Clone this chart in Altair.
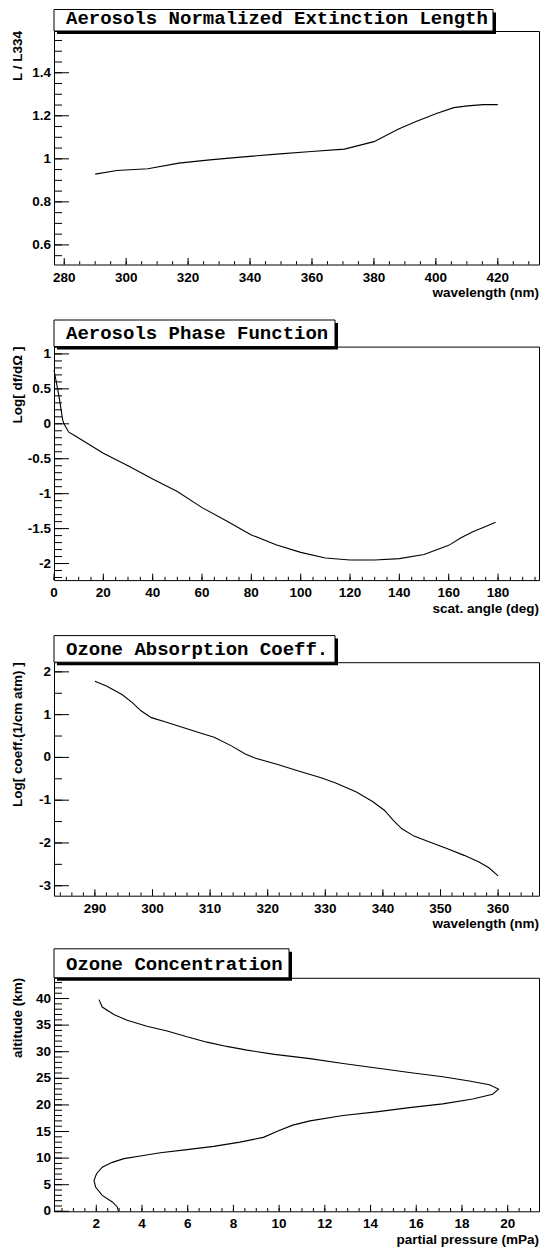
import altair as alt
import numpy as np
import pandas as pd

# ---------------- data ----------------
# Panel 1: aerosols normalized extinction length
ext_wavelength = [290, 297, 307, 317, 327, 337, 348.6, 359.8, 370.5, 380, 387.8,
                  393.4, 400.2, 405.8, 410.2, 415.3, 420]
ext_ratio = [0.929, 0.946, 0.954, 0.980, 0.995, 1.008, 1.022, 1.034, 1.045, 1.080,
             1.137, 1.172, 1.211, 1.238, 1.246, 1.252, 1.252]

# Panel 2: aerosols phase function
phase_angle = [0, 2, 3.5, 4, 6, 8.5, 20, 30, 40, 50, 60, 70, 80, 90, 100, 110,
               120, 130, 140, 150, 160, 165, 170, 175, 179]
phase_log = [0.77, 0.40, 0.06, 0.00, -0.12, -0.17, -0.42, -0.60, -0.79, -0.97,
             -1.20, -1.39, -1.59, -1.73, -1.84, -1.92, -1.95, -1.95, -1.93, -1.87,
             -1.74, -1.63, -1.54, -1.47, -1.41]

# Panel 3: ozone absorption coefficient
oz_wavelength = [290, 292, 294.7, 296.5, 298, 299.8, 302.3, 305.3, 308.3, 310.7,
                 313.7, 316.1, 317.9, 321.6, 325.2, 329.4, 331.8, 335.4, 338.2,
                 340.3, 341.8, 343.3, 345.4, 348.1, 351.1, 354.1, 356.6, 358.4, 360]
oz_logcoeff = [1.78, 1.67, 1.47, 1.28, 1.09, 0.93, 0.83, 0.70, 0.57, 0.47, 0.27,
               0.08, -0.02, -0.16, -0.31, -0.48, -0.60, -0.81, -1.03, -1.24, -1.47,
               -1.67, -1.84, -1.98, -2.13, -2.29, -2.44, -2.58, -2.77]

# Panel 4: ozone concentration profile (traced from top to ground)
conc_altitude = [39.8, 38.4, 37.0, 35.9, 34.8, 33.9, 32.8, 31.8, 31.0, 30.3,
                 29.5, 28.7, 27.8, 26.95, 26.1, 25.3, 24.5, 23.8, 22.97, 22.0,
                 21.1, 20.2, 19.5, 18.7, 18.0, 17.0, 16.2, 15.2, 13.9, 13.0,
                 12.2, 11.6, 11.0, 10.4, 9.9, 9.2, 8.3, 7.06, 5.8, 4.57,
                 3.0, 1.76, 0.82, 0.0]
conc_pressure = [2.12, 2.26, 2.77, 3.35, 4.22, 5.1, 5.97, 6.84, 7.71, 8.59,
                 9.8, 11.35, 12.8, 14.25, 15.7, 17.16, 18.32, 19.2, 19.6, 19.34,
                 18.47, 17.16, 15.7, 14.25, 12.8, 11.35, 10.6, 10.0, 9.31, 8.29,
                 7.13, 5.97, 4.8, 3.93, 3.21, 2.7, 2.26, 2.01, 1.9, 1.97,
                 2.26, 2.7, 2.92, 2.97]

titles = ["Aerosols Normalized Extinction Length", "Aerosols Phase Function",
          "Ozone Absorption Coeff.", "Ozone Concentration"]
x_titles = ["wavelength (nm)", "scat. angle (deg)", "wavelength (nm)",
            "partial pressure (mPa)"]
y_titles = ["L / L334", "Log[ df/d\u03a9 ]", "Log[ coeff.(1/cm atm) ]", "altitude (km)"]

# ---------------- layout / style ----------------
FONT = "Liberation Sans"
MONO = "Liberation Mono"
W, H = 485, 233.5
LBL = 13.5


def ticks(lo, hi, step):
    start = np.ceil(lo / step - 1e-9) * step
    n = int(np.floor((hi - start) / step + 1e-9)) + 1
    return [float(round(start + i * step, 6)) for i in range(n)]


def fmt(v):
    return f"{v:g}"


def panel(df, xf, yf, xdom, ydom, xstep, xminor, ystep, yminor, idx,
          box_w, box_top, order=None, xtitle_dy=32.5):
    xs = alt.Scale(domain=xdom, nice=False, zero=False)
    ys = alt.Scale(domain=ydom, nice=False, zero=False)
    xmaj = ticks(xdom[0], xdom[1], xstep)
    xmin = ticks(xdom[0], xdom[1], xminor)
    ymaj = ticks(ydom[0], ydom[1], ystep)
    ymin = ticks(ydom[0], ydom[1], yminor)

    enc = dict(x=alt.X(f"{xf}:Q", scale=xs, axis=None),
               y=alt.Y(f"{yf}:Q", scale=ys, axis=None))
    if order:
        enc["order"] = alt.Order(f"{order}:Q")
    line = alt.Chart(df).mark_line(color="black", strokeWidth=1.1).encode(**enc)

    def xt(vals, length):
        return alt.Chart(pd.DataFrame({"t": vals})).mark_rule(
            color="black", strokeWidth=1).encode(
            x=alt.X("t:Q", scale=xs, axis=None),
            y=alt.value(H), y2=alt.value(H - length))

    def yt(vals, length):
        return alt.Chart(pd.DataFrame({"t": vals})).mark_rule(
            color="black", strokeWidth=1).encode(
            y=alt.Y("t:Q", scale=ys, axis=None),
            x=alt.value(0), x2=alt.value(length))

    xlab = alt.Chart(pd.DataFrame({"t": xmaj, "s": [fmt(v) for v in xmaj]})).mark_text(
        font=FONT, fontSize=LBL, fontWeight="bold", color="black",
        align="center", baseline="top").encode(
        x=alt.X("t:Q", scale=xs, axis=None), y=alt.value(H + 6),
        text=alt.Text("s:N"))
    ylab = alt.Chart(pd.DataFrame({"t": ymaj, "s": [fmt(v) for v in ymaj]})).mark_text(
        font=FONT, fontSize=LBL, fontWeight="bold", color="black",
        align="right", baseline="middle").encode(
        y=alt.Y("t:Q", scale=ys, axis=None), x=alt.value(-3),
        text=alt.Text("s:N"))

    one = pd.DataFrame({"a": [0]})
    xtitle = alt.Chart(one).mark_text(
        font=FONT, fontSize=LBL, fontWeight="bold", color="black",
        align="right", baseline="alphabetic").encode(
        x=alt.value(W), y=alt.value(H + xtitle_dy), text=alt.value(x_titles[idx]))
    ytitle = alt.Chart(one).mark_text(
        font=FONT, fontSize=LBL, fontWeight="bold", color="black",
        align="right", baseline="alphabetic", angle=270).encode(
        x=alt.value(-32), y=alt.value(0), text=alt.value(y_titles[idx]))

    shadow = alt.Chart(one).mark_rect(color="black").encode(
        x=alt.value(3), x2=alt.value(box_w + 3),
        y=alt.value(box_top + 3), y2=alt.value(3))
    box = alt.Chart(one).mark_rect(fill="white", stroke="black", strokeWidth=1).encode(
        x=alt.value(0), x2=alt.value(box_w), y=alt.value(box_top), y2=alt.value(0))
    label = alt.Chart(one).mark_text(
        font=MONO, fontSize=19, fontWeight="bold", align="left",
        baseline="middle", color="black").encode(
        x=alt.value(12), y=alt.value(-13.5), text=alt.value(titles[idx]))

    return alt.layer(
        line, xt(xmaj, 6.5), xt(xmin, 3.3), yt(ymaj, 15), yt(ymin, 8),
        xlab, ylab, xtitle, ytitle, shadow, box, label
    ).properties(width=W, height=H)


df1 = pd.DataFrame({"wl": ext_wavelength, "ratio": ext_ratio})
df2 = pd.DataFrame({"ang": phase_angle, "ph": phase_log})
df3 = pd.DataFrame({"wl3": oz_wavelength, "lc": oz_logcoeff})
df4 = pd.DataFrame({"p": conc_pressure, "alt": conc_altitude,
                    "i": list(range(len(conc_pressure)))})

p1 = panel(df1, "wl", "ratio", [276.7, 433.3], [0.509, 1.594], 20, 5, 0.2, 0.05,
           0, 439, -21.5)
p2 = panel(df2, "ang", "ph", [0, 196.6], [-2.237, 1.105], 20, 5, 0.5, 0.1,
           1, 281, -26.6)
p3 = panel(df3, "wl3", "lc", [282.9, 367.1], [-3.233, 2.226], 10, 2, 1, 0.5,
           2, 281, -26.6)
p4 = panel(df4, "p", "alt", [0.15, 21.37], [0, 43.9], 2, 0.5, 5, 1,
           3, 235, -29, order="i")

chart = alt.vconcat(p1, p2, p3, p4, spacing=81.6, bounds="flush").resolve_scale(
    x="independent", y="independent"
).properties(
    padding={"left": 2, "top": 0, "right": 0, "bottom": 0},
    background="white",
).configure_view(stroke="black", strokeWidth=1)

chart.save("out.html", embed_options={"renderer": "svg", "actions": False})
